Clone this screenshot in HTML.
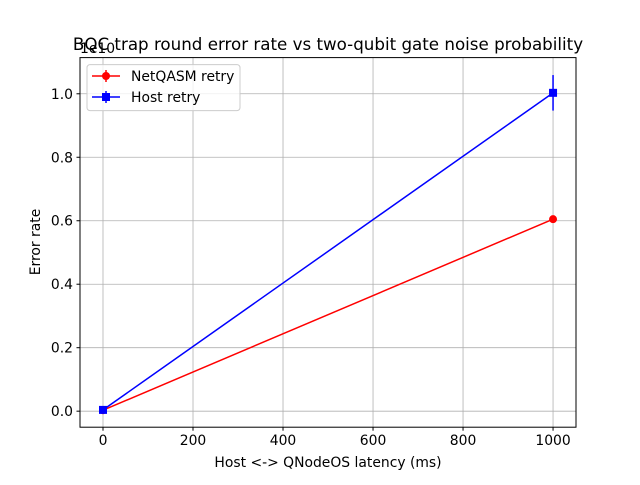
<!DOCTYPE html>
<html><head><meta charset="utf-8"><style>
body{margin:0;background:#fff;}
svg text{font-family:"DejaVu Sans","Liberation Sans",sans-serif;fill:#000;}
</style></head><body>
<svg id="chart" width="640" height="480" xmlns="http://www.w3.org/2000/svg">
<rect width="640" height="480" fill="#fff"/>
<g id="grid"></g>
<g id="series"></g>
<rect x="80" y="57.6" width="496" height="369.6" fill="none" stroke="#000" stroke-width="1"/>
<g id="ticks"></g>
<text x="328" y="50" font-size="16.7" text-anchor="middle">BQC trap round error rate vs two-qubit gate noise probability</text>
<text x="80" y="53" font-size="13.9">1e10</text>
<text x="328" y="467" font-size="13.9" text-anchor="middle">Host &lt;-&gt; QNodeOS latency (ms)</text>
<text transform="translate(40,242) rotate(-90)" font-size="13.9" text-anchor="middle">Error rate</text>
<g>
<rect x="87" y="64.6" width="153" height="46" rx="3" fill="#fff" fill-opacity="0.8" stroke="#ccc"/>
<line x1="92" y1="76" x2="120" y2="76" stroke="red" stroke-width="1.5"/><line x1="106" y1="70" x2="106" y2="82" stroke="red" stroke-width="1.5"/><circle cx="106" cy="76" r="4" fill="red"/>
<text x="131" y="81" font-size="13.9">NetQASM retry</text>
<line x1="92" y1="97" x2="120" y2="97" stroke="blue" stroke-width="1.5"/><line x1="106" y1="91" x2="106" y2="103" stroke="blue" stroke-width="1.5"/><rect x="102" y="93" width="8" height="8" fill="blue"/>
<text x="131" y="102" font-size="13.9">Host retry</text>
</g>
</svg>
<script>
const xValues=[0,1000];
const netqasmValues=[0.003,0.605];
const netqasmErr=[0.003,0.004];
const hostValues=[0.004,1.003];
const hostErr=[0.004,0.056];
const xTicks=[0,200,400,600,800,1000];
const yTicks=[0.0,0.2,0.4,0.6,0.8,1.0];
const yTickLabels=["0.0","0.2","0.4","0.6","0.8","1.0"];
const NS="http://www.w3.org/2000/svg";
const L=80,R=576,T=57.6,B=427.2;
const xmin=-51.1,xmax=1051,ymin=-0.0505,ymax=1.114;
const X=v=>L+(v-xmin)/(xmax-xmin)*(R-L);
const Y=v=>B-(v-ymin)/(ymax-ymin)*(B-T);
function mk(p,tag,a){const e=document.createElementNS(NS,tag);for(const k in a)e.setAttribute(k,a[k]);p.appendChild(e);return e;}
const grid=document.getElementById('grid'),ticks=document.getElementById('ticks'),ser=document.getElementById('series');
xTicks.forEach(t=>{const x=X(t);
const g=mk(grid,'line',{x1:x,x2:x,y1:T,y2:B,stroke:'#b0b0b0','stroke-width':0.8});


mk(ticks,'line',{x1:x,x2:x,y1:B,y2:B+3.5,stroke:'#000'});
const tx=mk(ticks,'text',{x:x,y:B+18,'font-size':13.9,'text-anchor':'middle'});tx.textContent=t;

});
yTicks.forEach((t,i)=>{const y=Y(t);
const g=mk(grid,'line',{x1:L,x2:R,y1:y,y2:y,stroke:'#b0b0b0','stroke-width':0.8});


mk(ticks,'line',{x1:L-3.5,x2:L,y1:y,y2:y,stroke:'#000'});
const tx=mk(ticks,'text',{x:L-7,y:y+5,'font-size':13.9,'text-anchor':'end'});tx.textContent=yTickLabels[i];

});
function series(vals,errs,color,name,square){
const pl=mk(ser,'polyline',{points:xValues.map((x,i)=>X(x)+','+Y(vals[i])).join(' '),fill:'none',stroke:color,'stroke-width':1.5});


xValues.forEach((x,i)=>{const cx=X(x),cy=Y(vals[i]);
mk(ser,'line',{x1:cx,x2:cx,y1:Y(vals[i]-errs[i]),y2:Y(vals[i]+errs[i]),stroke:color,'stroke-width':1.5});
const m=square?mk(ser,'rect',{x:cx-4,y:cy-4,width:8,height:8,fill:color}):mk(ser,'circle',{cx:cx,cy:cy,r:4,fill:color});

});}
series(netqasmValues,netqasmErr,'red','netqasm',false);
series(hostValues,hostErr,'blue','host',true);
</script>
</body></html>
